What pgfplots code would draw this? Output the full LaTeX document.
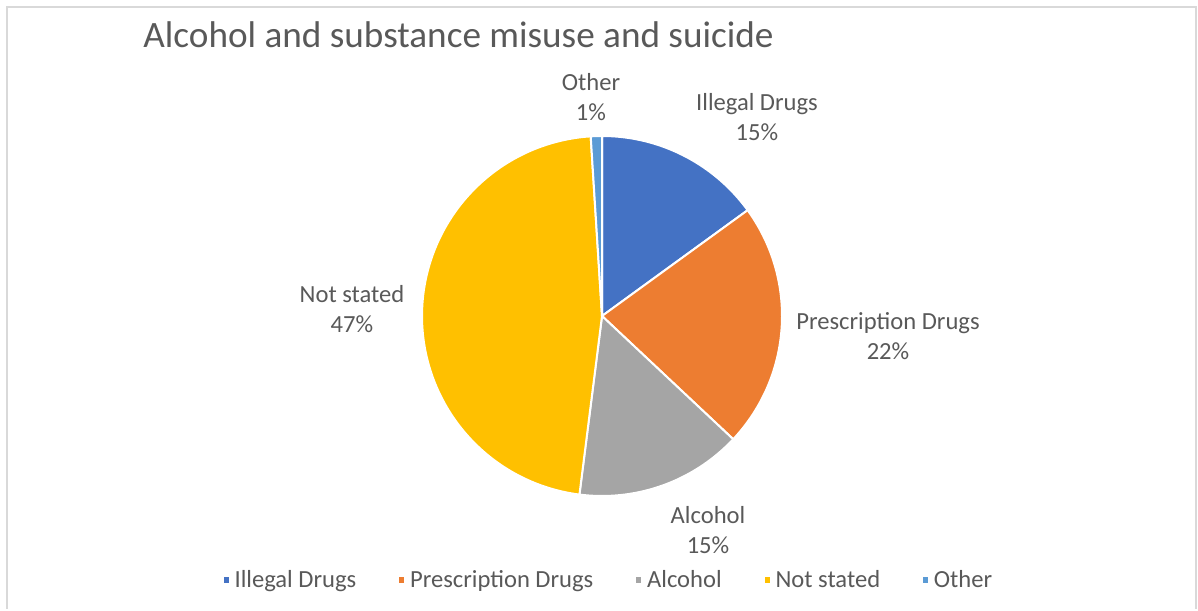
\documentclass[border=0pt]{standalone}
\usepackage{pgfplots}
\pgfplotsset{compat=1.18}
\usepackage{fontspec}
\setmainfont{Carlito}
\definecolor{cBlue}{HTML}{4472C4}
\definecolor{cOrange}{HTML}{ED7D31}
\definecolor{cGray}{HTML}{A5A5A5}
\definecolor{cYellow}{HTML}{FFC000}
\definecolor{cLight}{HTML}{5B9BD5}
\definecolor{txt}{HTML}{595959}
\definecolor{frame}{HTML}{D9D9D9}
% shares in percent
\def\vIllegal{15}
\def\vPresc{22}
\def\vAlc{15}
\def\vNot{47}
\def\vOther{1}
\pgfmathsetmacro\aA{90}
\pgfmathsetmacro\aB{\aA-3.6*\vIllegal}
\pgfmathsetmacro\aC{\aB-3.6*\vPresc}
\pgfmathsetmacro\aD{\aC-3.6*\vAlc}
\pgfmathsetmacro\aE{\aD-3.6*\vNot}
\pgfmathsetmacro\aF{\aE-3.6*\vOther}
\newcommand\lblfont{\fontsize{12.3}{15}\selectfont}
\begin{document}
\begin{tikzpicture}
\begin{axis}[
  width=599pt, height=304.5pt, scale only axis,
  xmin=0, xmax=1198, ymin=0, ymax=609,
  hide axis, clip=false,
  legend columns=5,
  legend style={at={(axis cs:609,29)}, anchor=center, draw=none, fill=none,
    font=\lblfont, text=txt,
    /tikz/every even column/.append style={column sep=18.5pt}},
  legend image code/.code={\fill[#1] (0pt,-1.8pt) rectangle (3.4pt,1.8pt);},
]
\path (axis cs:0,0) rectangle (axis cs:1198,609);
\draw[frame, line width=1pt] (axis cs:7,0) -- (axis cs:7,602) -- (axis cs:1196,602) -- (axis cs:1196,0);

\addplot[fill=cBlue, draw=white, line width=1pt, domain=\aB:\aA, samples=60, variable=\t]
  ({602+180*cos(\t)},{293+180*sin(\t)}) -- (axis cs:602,293) -- cycle;
\addlegendentry{Illegal Drugs}
\addplot[fill=cOrange, draw=white, line width=1pt, domain=\aC:\aB, samples=60, variable=\t]
  ({602+180*cos(\t)},{293+180*sin(\t)}) -- (axis cs:602,293) -- cycle;
\addlegendentry{Prescription Drugs}
\addplot[fill=cGray, draw=white, line width=1pt, domain=\aD:\aC, samples=60, variable=\t]
  ({602+180*cos(\t)},{293+180*sin(\t)}) -- (axis cs:602,293) -- cycle;
\addlegendentry{Alcohol}
\addplot[fill=cYellow, draw=white, line width=1pt, domain=\aE:\aD, samples=120, variable=\t]
  ({602+180*cos(\t)},{293+180*sin(\t)}) -- (axis cs:602,293) -- cycle;
\addlegendentry{Not stated}
\addplot[fill=cLight, draw=white, line width=1pt, domain=\aF:\aE, samples=5, variable=\t]
  ({602+180*cos(\t)},{293+180*sin(\t)}) -- (axis cs:602,293) -- cycle;
\addlegendentry{Other}

\node[anchor=base west, inner sep=0pt, text=txt, font=\fontsize{18.6}{22}\selectfont] at (axis cs:143,561) {Alcohol and substance misuse and suicide};

\node[align=center, text=txt, font=\lblfont] at (axis cs:591,512) {Other\\1\%};
\node[align=center, text=txt, font=\lblfont] at (axis cs:757,492) {Illegal Drugs\\15\%};
\node[align=center, text=txt, font=\lblfont] at (axis cs:888,273) {Prescription Drugs\\22\%};
\node[align=center, text=txt, font=\lblfont] at (axis cs:352,300) {Not stated\\47\%};
\node[align=center, text=txt, font=\lblfont] at (axis cs:708,79) {Alcohol\\15\%};
\end{axis}
\end{tikzpicture}
\end{document}
